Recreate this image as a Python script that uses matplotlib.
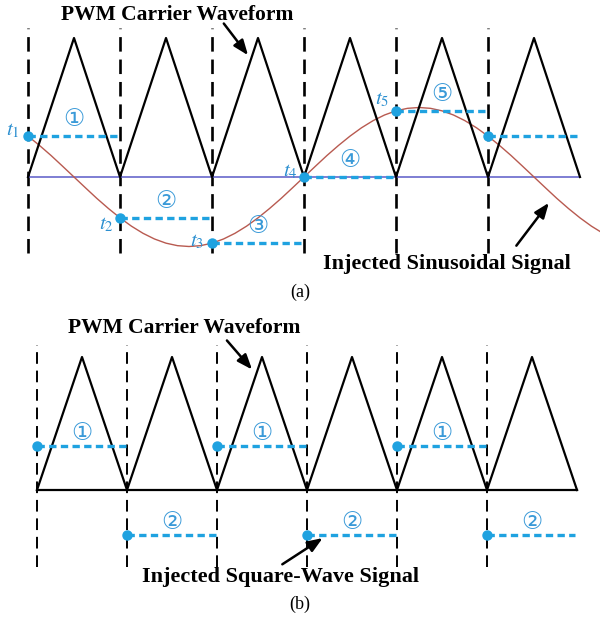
import matplotlib
matplotlib.use('Agg')
import numpy as np
import matplotlib.pyplot as plt

plt.rcParams['font.family'] = ['Liberation Serif', 'DejaVu Serif']
plt.rcParams['mathtext.fontset'] = 'stix'

# carrier: unit triangles, one per sampling period
carrier_x = np.arange(0, 6.01, 0.5)
carrier_y = [0, 1, 0, 1, 0, 1, 0, 1, 0, 1, 0, 1, 0]
sample_lines = [0, 1, 2, 3, 4, 5]

# (a) injected sinusoid, read every 1/8 carrier period
sine_x = np.arange(0, 6.26, 0.125)
sine_y = [0.294, 0.227, 0.155, 0.078, 0.0, -0.078, -0.155, -0.227, -0.294, -0.354,
          -0.405, -0.446, -0.476, -0.494, -0.5, -0.494, -0.476, -0.446, -0.405, -0.354,
          -0.294, -0.227, -0.155, -0.078, 0.0, 0.078, 0.155, 0.227, 0.294, 0.354,
          0.405, 0.446, 0.476, 0.494, 0.5, 0.494, 0.476, 0.446, 0.405, 0.354,
          0.294, 0.227, 0.155, 0.078, 0.0, -0.078, -0.155, -0.227, -0.294, -0.354,
          -0.405]
samples_a = [0.294, -0.294, -0.475, 0.0, 0.475, 0.294]
labels_a = ['①', '②', '③', '④', '⑤', '']
t_labels = [r'$t_1$', r'$t_2$', r'$t_3$', r'$t_4$', r'$t_5$', '']
t_offsets = [(-11, 4), (-10, -5), (-11, 1), (-10, 4), (-10, 8), (0, 0)]
hold_end_a = [1, 2, 3, 4, 5, 6.0]

# (b) injected square wave
samples_b = [0.33, -0.34, 0.33, -0.34, 0.33, -0.34]
labels_b = ['①', '②', '①', '②', '①', '②']
hold_end_b = [1, 2, 3, 4, 5, 5.98]

CYAN = '#1fa2e0'
LBL = '#3a9ad8'
SYM = ['DejaVu Sans', 'Noto Sans CJK SC']
ARROW = dict(arrowstyle='-|>,head_length=0.9,head_width=0.35', color='black', lw=1.8)

fig = plt.figure(figsize=(6, 6.24), dpi=100)
ax_a = fig.add_axes([0, 1 - 310 / 624, 1, 310 / 624])
ax_b = fig.add_axes([0, 0, 1, 314 / 624])

# ---- panel (a)
ax_a.set_xlim(-28 / 92, 572 / 92)
ax_a.set_ylim(-133 / 139, 177 / 139)
for xv in sample_lines:
    ax_a.plot([xv, xv], [-0.547, 1.07], color='black', lw=1.9, dashes=(5.5, 3))
ax_a.plot([0, 6], [0, 0], color='#5b5bc8', lw=1.1)
ax_a.plot(sine_x, sine_y, color='#b85a50', lw=1.0)
ax_a.plot(carrier_x, carrier_y, color='black', lw=1.6)
for i, v in enumerate(samples_a):
    ax_a.plot([i, hold_end_a[i]], [v, v], color=CYAN, lw=2.4, dashes=(2.2, 1.3))
    ax_a.plot(i, v, 'o', color=CYAN, ms=6.5)
    if labels_a[i]:
        ax_a.text(i + 0.5, v + 0.12, labels_a[i], color=LBL, fontsize=17,
                  family=SYM, ha='center', va='center')
    if t_labels[i]:
        ax_a.annotate(t_labels[i], (i, v), xytext=t_offsets[i], textcoords='offset points',
                      color='#2b8fd0', fontsize=15, ha='center', va='center')
ax_a.text(1.62, 1.165, 'PWM Carrier Waveform', fontsize=15.5, fontweight='bold',
          ha='center', va='center')
ax_a.annotate('', xy=(2.41, 0.86), xytext=(2.11, 1.12), arrowprops=ARROW)
ax_a.text(4.55, -0.625, 'Injected Sinusoidal Signal', fontsize=16, fontweight='bold',
          ha='center', va='center')
ax_a.annotate('', xy=(5.68, -0.17), xytext=(5.29, -0.51), arrowprops=ARROW)
ax_a.text(2.96, -0.83, '(a)', fontsize=13, ha='center', va='center')
ax_a.axis('off')

# ---- panel (b)
ax_b.set_xlim(-37 / 90, 563 / 90)
ax_b.set_ylim(-134 / 133, 180 / 133)
for xv in sample_lines:
    ax_b.plot([xv, xv], [-0.58, 1.09], color='black', lw=1.4, dashes=(6, 3.5))
ax_b.plot([0, 6], [0, 0], color='black', lw=1.6)
ax_b.plot(carrier_x, carrier_y, color='black', lw=1.6)
for i, v in enumerate(samples_b):
    ax_b.plot([i, hold_end_b[i]], [v, v], color=CYAN, lw=2.4, dashes=(2.2, 1.3))
    ax_b.plot(i, v, 'o', color=CYAN, ms=6.5)
    ax_b.text(i + 0.5, v + 0.1, labels_b[i], color=LBL, fontsize=17,
              family=SYM, ha='center', va='center')
ax_b.text(1.64, 1.22, 'PWM Carrier Waveform', fontsize=15.5, fontweight='bold',
          ha='center', va='center')
ax_b.annotate('', xy=(2.41, 0.89), xytext=(2.09, 1.14), arrowprops=ARROW)
ax_b.text(2.7, -0.655, 'Injected Square-Wave Signal', fontsize=16, fontweight='bold',
          ha='center', va='center')
ax_b.annotate('', xy=(3.2, -0.35), xytext=(2.7, -0.57), arrowprops=ARROW)
ax_b.text(2.92, -0.857, '(b)', fontsize=13, ha='center', va='center')
ax_b.axis('off')

fig.savefig('out.png', dpi=100)
